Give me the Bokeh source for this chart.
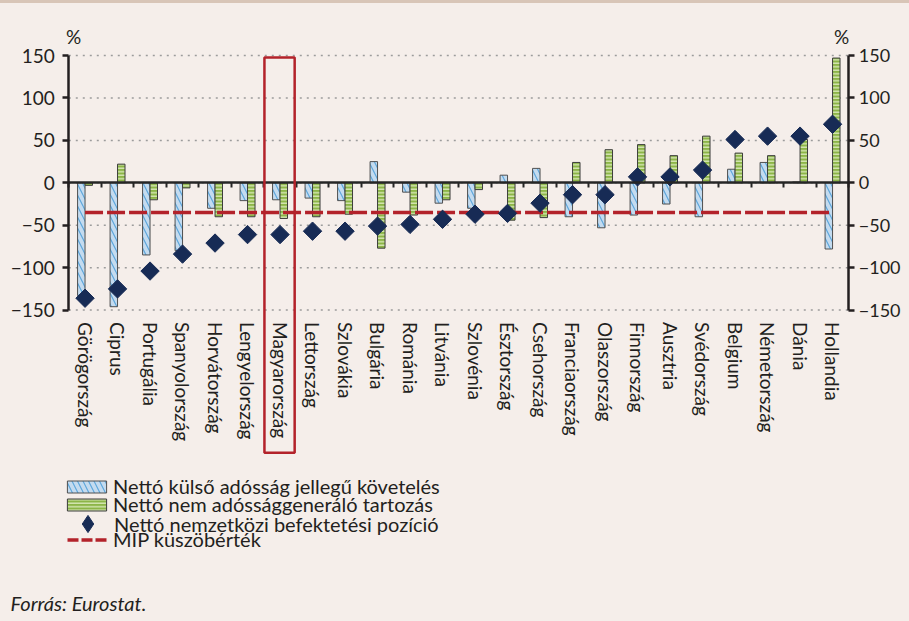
from math import pi, nan
from bokeh.plotting import figure
from bokeh.models import (ColumnDataSource, Range1d, LinearAxis, FixedTicker,
                          Legend, LegendItem, Label, BoxAnnotation)
from bokeh.embed import file_html
from bokeh.resources import INLINE

countries = ["Görögország", "Ciprus", "Portugália", "Spanyolország", "Horvátország",
             "Lengyelország", "Magyarország", "Lettország", "Szlovákia", "Bulgária",
             "Románia", "Litvánia", "Szlovénia", "Észtország", "Csehország",
             "Franciaország", "Olaszország", "Finnország", "Ausztria", "Svédország",
             "Belgium", "Németország", "Dánia", "Hollandia"]
debt_claims = [-133, -146, -85, -80, -30, -21, -20, -18, -21, 25, -11, -24, -30, 9, 17,
               -40, -53, -38, -25, -40, 16, 24, 1, -78]
non_debt_liab = [-3, 22, -20, -6, -40, -40, -42, -40, -37, -77, -38, -20, -8, -44, -41,
                 24, 39, 45, 32, 55, 35, 32, 51, 147]
niip = [-136, -125, -104, -84, -71, -61, -61, -57, -57, -51, -49, -43, -37, -36, -24,
        -14, -14, 7, 7, 15, 51, 55, 55, 69]
mip_threshold = -35
y_ticks = [-150, -100, -50, 0, 50, 100, 150]
highlight = "Magyarország"

legend_labels = ["Nettó külső adósság jellegű követelés",
                 "Nettó nem adóssággeneráló tartozás",
                 "Nettó nemzetközi befektetési pozíció",
                 "MIP küszöbérték"]
source_text = "Forrás: Eurostat."

BG = "#f5eeea"
INK = "#231f20"
FONT = "Lato"
FS = "19px"
BLUE_FILL, BLUE_HATCH = "#c4dbef", "#5ea7dc"
GREEN_FILL, GREEN_HATCH = "#8cb547", "#dcebbd"
NAVY = "#172b55"
RED = "#b3222a"

n = len(countries)
centers = [i + 0.5 for i in range(n)]
bw = 0.23
ymin, ymax = min(y_ticks), max(y_ticks)

src = ColumnDataSource(dict(x=centers, xb=[c - bw / 2 for c in centers],
                            xg=[c + bw / 2 for c in centers],
                            debt=debt_claims, eq=non_debt_liab, niip=niip,
                            mip=[mip_threshold] * n))

W, H = 893, 605
# the frame covers the whole canvas; the data window sits inside it
p = figure(x_range=Range1d(-1.855, (W - 60.3) / 32.5), y_range=Range1d(-507.5, 205.4),
           width=W, height=H, min_border=0,
           output_backend="svg", toolbar_location=None)
p.background_fill_color = BG
p.border_fill_color = BG
p.outline_line_color = None
p.xgrid.visible = False
p.ygrid.visible = False

label_override = {t: (str(t) if t >= 0 else "\u2212" + str(-t)) for t in y_ticks}

# dotted gridlines across the data window
p.segment(x0=[0] * len(y_ticks), x1=[n] * len(y_ticks), y0=y_ticks, y1=y_ticks,
          line_color="#9c9c9c", line_dash="2 5", line_width=1.5)

blue = p.vbar(x="xb", top="debt", bottom=0, width=bw, source=src,
              fill_color=BLUE_FILL, line_color="#505050", line_width=1,
              hatch_pattern="\\", hatch_color=BLUE_HATCH, hatch_scale=11, hatch_weight=1.2)
green = p.vbar(x="xg", top="eq", bottom=0, width=bw, source=src,
               fill_color=GREEN_FILL, line_color="#3c3c3c", line_width=1,
               hatch_pattern="-", hatch_color=GREEN_HATCH, hatch_scale=3.5, hatch_weight=1.3)
mip = p.line(x="x", y="mip", source=src, line_color=RED, line_width=3.5, line_dash="18 4")
dia = p.scatter(x="x", y="niip", source=src, marker="square", angle=pi / 4, size=13,
                fill_color=NAVY, line_color=NAVY)

# category axis (labels only), placed at the bottom of the data window
xa = p.xaxis[0]
xa.fixed_location = ymin
xa.ticker = FixedTicker(ticks=centers)
xa.major_label_overrides = {c: name for c, name in zip(centers, countries)}
xa.axis_line_color = None
xa.major_tick_line_color = None
xa.minor_tick_line_color = None
xa.major_label_orientation = "vertical"
xa.major_label_standoff = 6
xa.major_label_text_font = FONT
xa.major_label_text_font_size = FS
xa.major_label_text_color = INK

# zero line with ticks between categories
zero_axis = LinearAxis(fixed_location=0, bounds=(0, n),
                       ticker=FixedTicker(ticks=list(range(n + 1))),
                       axis_line_color="#262626", axis_line_width=2.5,
                       major_tick_line_color="#262626", major_tick_line_width=2,
                       major_tick_in=0, major_tick_out=5, minor_tick_line_color=None,
                       major_label_text_alpha=0, major_label_text_font_size="1px")
p.add_layout(zero_axis, "below")

left_axis = p.yaxis[0]
left_axis.fixed_location = 0
right_axis = LinearAxis(fixed_location=n)
p.add_layout(right_axis, "right")
for ax in [left_axis, right_axis]:
    ax.bounds = (ymin, ymax)
    ax.ticker = FixedTicker(ticks=y_ticks)
    ax.major_label_overrides = label_override
    ax.axis_line_color = INK
    ax.axis_line_width = 2.5
    ax.major_tick_line_color = INK
    ax.major_tick_line_width = 2.5
    ax.major_tick_in = 0
    ax.major_tick_out = 6
    ax.minor_tick_line_color = None
    ax.major_label_standoff = 8
    ax.major_label_text_font = FONT
    ax.major_label_text_font_size = FS
    ax.major_label_text_color = INK
right_axis.major_label_standoff = 4
right_axis.major_label_text_font_size = "18px"

# percent labels
for xv in (0.15, n - 0.22):
    p.add_layout(Label(x=xv, y=172, text="%", text_align="center",
                       text_baseline="middle", text_font=FONT, text_font_size=FS,
                       text_color=INK))

# highlight box around Hungary
hi = countries.index(highlight)
p.add_layout(BoxAnnotation(left=hi + 0.02, right=hi + 0.95, top=147.6, bottom=-318,
                           fill_color=None, fill_alpha=0, line_alpha=1,
                           line_color=RED, line_width=2.5, level="overlay"))

# legend proxies (no visible data) for legend-specific marker / dash
proxy = ColumnDataSource(dict(x=[nan], y=[nan]))
lg_line = p.line(x="x", y="y", source=proxy, line_color=RED, line_width=3.5,
                 line_dash="11 3")
lg_dia = p.scatter(x="x", y="y", source=proxy, marker="diamond", size=10,
                   fill_color=NAVY, line_color=NAVY)

def mk_legend(label, renderer, loc, gw, gh, standoff):
    lg = Legend(items=[LegendItem(label=label, renderers=[renderer])], location=loc,
                orientation="vertical", glyph_width=gw, glyph_height=gh, label_height=gh,
                spacing=0, padding=0, margin=0, label_standoff=standoff,
                border_line_color=None, background_fill_alpha=0,
                label_text_font=FONT, label_text_font_size="20px",
                label_text_color=INK, label_text_baseline="middle")
    p.add_layout(lg, "center")

mk_legend(legend_labels[0], blue, (54, 115), 49, 15, 2)
mk_legend(legend_labels[1], green, (54, 97), 49, 15, 2)
mk_legend(legend_labels[2], lg_dia, (58, 68), 43, 43, 5)
mk_legend(legend_labels[3], lg_line, (59, 62), 40, 15, 6)

# source note
p.add_layout(Label(x=-1.79, y=-495, text=source_text,
                   text_font=FONT, text_font_size="20px", text_font_style="italic",
                   text_color=INK, text_baseline="middle"))

html = file_html(p, INLINE)
style = ("<style>html{background:linear-gradient(#d8c5b7 0px,#d8c5b7 3px," + BG + " 3px);}"
         "body{background:transparent;margin:8px;}</style>")
html = html.replace("</head>", style + "</head>", 1)
open("out.html", "w").write(html)
